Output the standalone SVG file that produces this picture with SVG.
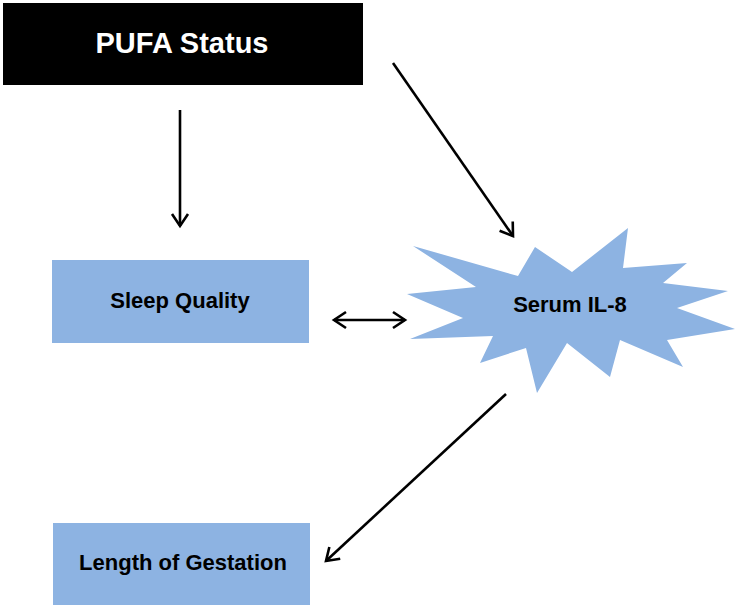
<svg xmlns="http://www.w3.org/2000/svg" width="740" height="608" viewBox="0 0 740 608">
<style>
.box{fill:#8db3e2}
.lbl{font-family:"Liberation Sans",Arial,sans-serif;font-weight:bold;font-size:22px;fill:#000;text-anchor:middle;dominant-baseline:central}
.edge{stroke:#000;stroke-width:2.6;fill:none}
</style>
<defs>
<marker id="ah" viewBox="-13 -10 16 20" refX="0" refY="0" markerWidth="16" markerHeight="20" markerUnits="userSpaceOnUse" orient="auto-start-reverse">
<path d="M-12,-8 L0,0 L-12,8" fill="none" stroke="#000" stroke-width="2.6"/>
</marker>
</defs>
<rect width="740" height="608" fill="#fff"/>
<g id="pufa">
<rect x="3" y="3" width="360" height="82" fill="#000"/>
<text x="182" y="43" class="lbl" style="fill:#fff;font-size:29px">PUFA Status</text>
</g>
<g id="sleep">
<rect class="box" x="52" y="260" width="257" height="83"/>
<text x="180" y="300" class="lbl">Sleep Quality</text>
</g>
<g id="il8">
<polygon class="box" points="413,246 518,276 535,247 572,272 628,228 623,268 687,263 663,283 728,291 677,308 735,329 667,340 683,367 620,340 610,377 567,343 537,393 526,348 480,363 493,336 410,339 463,318 407,294 476,287"/>
<text x="570" y="304" class="lbl">Serum IL-8</text>
</g>
<g id="gestation">
<rect class="box" x="53" y="523" width="257" height="82"/>
<text x="183" y="562" class="lbl">Length of Gestation</text>
</g>
<g id="connectors">
<line class="edge" x1="180" y1="110" x2="180" y2="226" marker-end="url(#ah)"/>
<line class="edge" x1="393" y1="63" x2="513" y2="236" marker-end="url(#ah)"/>
<line class="edge" x1="334" y1="320" x2="405" y2="320" marker-start="url(#ah)" marker-end="url(#ah)"/>
<line class="edge" x1="506" y1="394" x2="326" y2="561" marker-end="url(#ah)"/>
</g>
</svg>
